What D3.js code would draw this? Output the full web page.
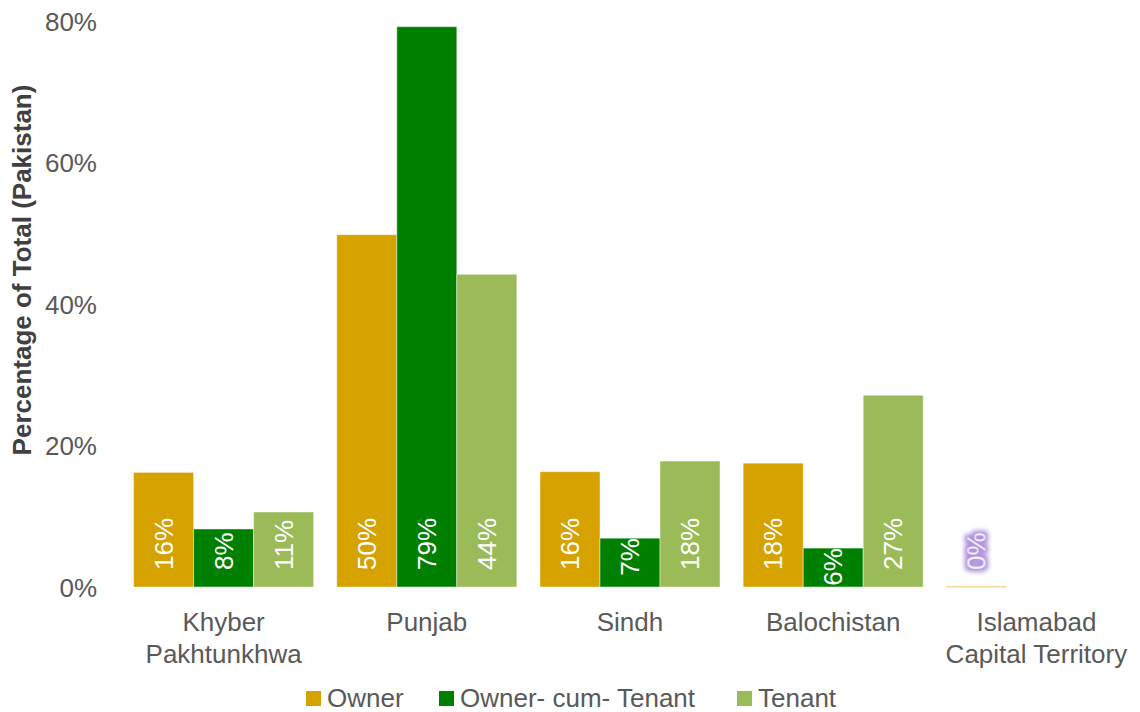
<!DOCTYPE html>
<html>
<head>
<meta charset="utf-8">
<script src="https://cdn.jsdelivr.net/npm/d3@7"></script>
<style>
  html, body { margin: 0; padding: 0; background: #fff; }
  svg { display: block; font-family: "Liberation Sans", Arial, sans-serif; }
</style>
</head>
<body>
<svg id="chart" width="1140" height="712"></svg>
<script>
// ---- data ----
const categories = [["Khyber", "Pakhtunkhwa"], ["Punjab"], ["Sindh"], ["Balochistan"], ["Islamabad", "Capital Territory"]];
const seriesNames = ["Owner", "Owner- cum- Tenant", "Tenant"];
const ownerValues = [16.2, 49.8, 16.3, 17.5, 0.1];
const ownerCumTenantValues = [8.2, 79.2, 6.9, 5.5, 0];
const tenantValues = [10.6, 44.2, 17.8, 27.1, 0];
const ownerLabels = ["16%", "50%", "16%", "18%", "0%"];
const ownerCumTenantLabels = ["8%", "79%", "7%", "6%", ""];
const tenantLabels = ["11%", "44%", "18%", "27%", ""];
const yTicks = [0, 20, 40, 60, 80];
const colors = ["#D6A200", "#008000", "#9BBB59"];

const svg = d3.select("#chart");
const catKeys = categories.map((c, i) => "c" + i);
const seriesValues = [ownerValues, ownerCumTenantValues, tenantValues];
const seriesLabels = [ownerLabels, ownerCumTenantLabels, tenantLabels];

const x0 = d3.scaleBand().domain(catKeys).range([122, 1138]).paddingInner(0.114).paddingOuter(0.057);
const x1 = d3.scaleBand().domain(seriesNames).range([0, x0.bandwidth()]).padding(0);
const y = d3.scaleLinear().domain([0, 80]).range([587, 21]);

// glow filter for the purple label
const defs = svg.append("defs");
const f = defs.append("filter").attr("id", "glow").attr("x", "-50%").attr("y", "-50%").attr("width", "200%").attr("height", "200%");
f.append("feMorphology").attr("in", "SourceAlpha").attr("operator", "dilate").attr("radius", 2.5).attr("result", "d");
f.append("feGaussianBlur").attr("in", "d").attr("stdDeviation", 2).attr("result", "b");
f.append("feFlood").attr("flood-color", "#B094DD").attr("flood-opacity", 1);
f.append("feComposite").attr("in2", "b").attr("operator", "in").attr("result", "g");
const fm = f.append("feMerge");
fm.append("feMergeNode").attr("in", "g");
fm.append("feMergeNode").attr("in", "SourceGraphic");

// y axis (labels only)
const yAxis = d3.axisLeft(y).tickValues(yTicks).tickFormat(d => d + "%").tickSize(0).tickPadding(0);
const yg = svg.append("g").attr("transform", "translate(97,0)").call(yAxis);
yg.select(".domain").remove();
yg.selectAll("text").attr("font-size", 26).attr("fill", "#595959")
  .attr("font-family", "Liberation Sans, Arial, sans-serif").attr("dy", "0.36em");

// axis title
svg.append("text")
  .attr("transform", "translate(31,270) rotate(-90)")
  .attr("text-anchor", "middle")
  .attr("font-size", 26).attr("font-weight", "bold").attr("fill", "#404040")
  .text("Percentage of Total (Pakistan)");

// bars
const base = y(0);
const groups = svg.append("g").selectAll("g").data(catKeys).join("g")
  .attr("transform", d => `translate(${x0(d)},0)`);

groups.each(function(ck, ci) {
  const g = d3.select(this);
  seriesNames.forEach((s, si) => {
    const v = seriesValues[si][ci];
    if (v > 0) {
      const top = y(v);
      g.append("rect")
        .attr("x", x1(s)).attr("y", top)
        .attr("width", x1.bandwidth()).attr("height", Math.max(base - top, 1))
        .attr("fill", colors[si])
        .attr("stroke", "#ffffff").attr("stroke-opacity", 0.45).attr("stroke-width", 1);
    }
  });
});

// data labels
groups.each(function(ck, ci) {
  const g = d3.select(this);
  seriesNames.forEach((s, si) => {
    const lab = seriesLabels[si][ci];
    if (!lab) return;
    const v = seriesValues[si][ci];
    const top = y(v);
    const cx = x1(s) + x1.bandwidth() / 2;
    const t = g.append("text")
      .attr("font-size", 26)
      .attr("fill", ci === 4 ? "#F3EEFA" : "#ffffff")
      .attr("text-anchor", "start")
      .text(lab);
    if (ci === 4) t.attr("filter", "url(#glow)");
    const len = t.node().getComputedTextLength();
    let bottom = base - 17;
    if (top + len <= base) bottom = Math.max(base - 17, top + len);
    t.attr("transform", `translate(${cx + 9},${bottom}) rotate(-90)`);
  });
});

// category labels
groups.each(function(ck, ci) {
  const g = d3.select(this);
  const t = g.append("text").attr("text-anchor", "middle").attr("font-size", 26).attr("fill", "#595959");
  categories[ci].forEach((line, li) => {
    t.append("tspan").attr("x", x0.bandwidth() / 2).attr("y", 631 + li * 32).text(line);
  });
});

// legend
const legendX = [306, 439, 737];
const lg = svg.append("g");
seriesNames.forEach((s, i) => {
  lg.append("rect").attr("x", legendX[i]).attr("y", 691).attr("width", 15).attr("height", 15).attr("fill", colors[i]);
  lg.append("text").attr("x", legendX[i] + 21).attr("y", 707).attr("font-size", 26).attr("fill", "#595959").text(s);
});
</script>
</body>
</html>
